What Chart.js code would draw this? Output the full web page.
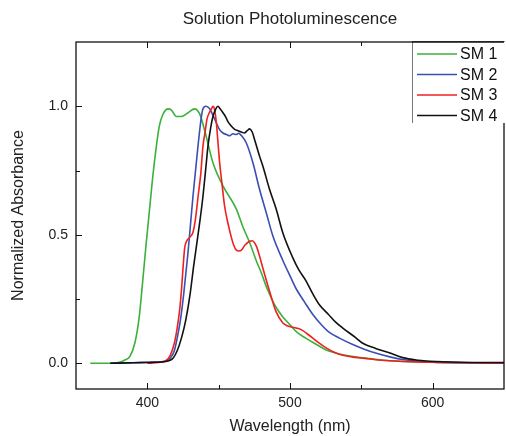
<!DOCTYPE html>
<html>
<head>
<meta charset="utf-8">
<script src="https://cdn.jsdelivr.net/npm/chart.js@4.4.1/dist/chart.umd.min.js"></script>
<style>
  html, body { margin: 0; padding: 0; background: #fff; }
  #wrap { width: 506px; height: 436px; }
</style>
</head>
<body>
<div id="wrap"><canvas id="pl"></canvas></div>
<script>
'use strict';

/* ---- data ---- */
const chartTitle = 'Solution Photoluminescence';
const seriesNames = ['SM 1', 'SM 2', 'SM 3', 'SM 4'];
const seriesColors = ['#3bb03b', '#3a4fb4', '#ee2020', '#111111'];

const sm1Wl  = [360, 370, 378, 381, 384, 387.8, 391.3, 394.3, 396.6, 399, 401.3, 403.6, 406, 408.3, 411, 414.6, 416.9, 420.4, 423.9, 428.5, 433.2, 436.7, 439, 441.4, 446, 453, 462.4, 467, 471.7, 476.3, 480, 484, 490, 495, 500, 505, 511, 518, 525, 532, 539, 548, 556, 570, 590, 610, 630, 650];
const sm1Val = [0, 0, 0.002, 0.005, 0.012, 0.027, 0.08, 0.18, 0.31, 0.455, 0.585, 0.715, 0.83, 0.92, 0.97, 0.99, 0.985, 0.96, 0.96, 0.975, 0.99, 0.97, 0.93, 0.88, 0.78, 0.69, 0.6, 0.53, 0.47, 0.4, 0.35, 0.29, 0.22, 0.18, 0.15, 0.12, 0.098, 0.075, 0.053, 0.04, 0.031, 0.023, 0.018, 0.01, 0.005, 0.003, 0.002, 0.001];

const sm2Wl  = [374, 390, 405, 412, 416, 419, 421, 423.5, 425.5, 428.5, 432, 435.5, 437.9, 439, 441, 443.7, 446, 448.4, 450.5, 453, 455.5, 457.7, 460, 462.4, 464, 465.9, 469.4, 474, 478.7, 483.4, 488, 495, 500, 504.3, 510, 516, 522, 527.6, 535, 544, 552, 560, 570, 580, 590, 600, 620, 650];
const sm2Val = [0, 0.002, 0.005, 0.008, 0.02, 0.05, 0.1, 0.18, 0.27, 0.43, 0.65, 0.845, 0.96, 0.99, 1.0, 0.99, 0.965, 0.935, 0.91, 0.896, 0.89, 0.885, 0.893, 0.89, 0.895, 0.886, 0.857, 0.78, 0.676, 0.585, 0.495, 0.4, 0.34, 0.29, 0.24, 0.19, 0.15, 0.12, 0.097, 0.073, 0.055, 0.04, 0.025, 0.014, 0.008, 0.004, 0.002, 0.001];

const sm3Wl  = [400, 408, 413, 416, 419, 421, 422.7, 424, 425, 426.2, 427.5, 429.7, 432, 433.7, 435.6, 437.5, 439, 440.5, 441.8, 443.5, 444.9, 446, 447.2, 448.4, 449.5, 450.7, 452.5, 454.2, 456.5, 458.9, 460.5, 462.4, 464.2, 465.9, 468.5, 471.7, 473.5, 475, 476.5, 478.5, 481, 485.7, 490.3, 495, 498.5, 502, 506, 509, 512, 516, 520, 525.3, 531, 537, 544, 551, 560, 570, 585, 600, 625, 650];
const sm3Val = [0, 0.003, 0.01, 0.03, 0.08, 0.14, 0.21, 0.29, 0.37, 0.45, 0.475, 0.49, 0.51, 0.56, 0.65, 0.74, 0.845, 0.9, 0.95, 0.975, 0.99, 1.0, 0.985, 0.935, 0.86, 0.78, 0.69, 0.61, 0.545, 0.49, 0.46, 0.44, 0.437, 0.44, 0.46, 0.475, 0.477, 0.47, 0.455, 0.42, 0.37, 0.28, 0.2, 0.157, 0.145, 0.14, 0.135, 0.127, 0.115, 0.098, 0.08, 0.06, 0.043, 0.031, 0.024, 0.02, 0.014, 0.01, 0.006, 0.004, 0.002, 0.001];

const sm4Wl  = [374, 390, 405, 412, 415, 418, 421, 424, 427, 430, 432.5, 434.4, 437, 439, 441, 442.5, 444.5, 446, 448, 449.5, 451, 453, 454.8, 456.5, 458.5, 461.2, 463.5, 465.9, 468, 470, 471.7, 473.5, 475.2, 478.7, 481, 485.7, 490.3, 495, 502, 506, 511.3, 516, 520.6, 527, 532, 537, 546, 551, 560, 569, 579, 590, 598, 620, 650];
const sm4Val = [0, 0.002, 0.004, 0.006, 0.01, 0.02, 0.05, 0.1, 0.17, 0.27, 0.38, 0.455, 0.56, 0.65, 0.76, 0.845, 0.92, 0.96, 0.99, 1.0, 0.99, 0.975, 0.96, 0.94, 0.925, 0.91, 0.905, 0.9, 0.896, 0.905, 0.912, 0.9, 0.87, 0.805, 0.767, 0.676, 0.6, 0.507, 0.41, 0.365, 0.32, 0.27, 0.228, 0.19, 0.16, 0.137, 0.1, 0.078, 0.058, 0.042, 0.022, 0.012, 0.008, 0.004, 0.003];

const xTicks = [400, 500, 600];
const xMinorTicks = [450, 550];
const yTicks = [0, 0.5, 1.0];
const yMinorTicks = [0.25, 0.75];

const FONT = "'Liberation Sans', Arial, sans-serif";
const TEXT = '#222';

const toPoints = (wl, val) => wl.map((x, i) => ({ x, y: val[i] }));
const allWl  = [sm1Wl, sm2Wl, sm3Wl, sm4Wl];
const allVal = [sm1Val, sm2Val, sm3Val, sm4Val];

/* ---- frame, inner ticks, title and legend box ---- */
const framePlugin = {
  id: 'frame',
  afterDatasetsDraw(chart) {
    const { ctx, chartArea: a, scales: { x, y } } = chart;
    ctx.save();
    ctx.strokeStyle = '#111';
    ctx.lineWidth = 1.3;
    ctx.strokeRect(a.left, a.top, a.right - a.left, a.bottom - a.top);

    ctx.lineWidth = 1;
    const tick = (vals, len) => {
      vals.forEach(v => {
        const px = Math.round(x.getPixelForValue(v)) + 0.5;
        ctx.beginPath();
        ctx.moveTo(px, a.bottom); ctx.lineTo(px, a.bottom - len);
        ctx.moveTo(px, a.top);    ctx.lineTo(px, a.top + len);
        ctx.stroke();
      });
    };
    const ytick = (vals, len) => {
      vals.forEach(v => {
        const py = Math.round(y.getPixelForValue(v)) + 0.5;
        ctx.beginPath();
        ctx.moveTo(a.left, py); ctx.lineTo(a.left + len, py);
        ctx.stroke();
      });
    };
    tick(xTicks, 6); tick(xMinorTicks, 4);
    ytick(yTicks, 6); ytick(yMinorTicks, 4);

    // title, centred over the plot area
    ctx.fillStyle = TEXT;
    ctx.font = '17px ' + FONT;
    ctx.textAlign = 'center';
    ctx.textBaseline = 'middle';
    ctx.fillText(chartTitle, (a.left + a.right) / 2, 19);

    // legend box in the top-right corner
    const bx = 412, by = a.top, bh = 81;
    ctx.fillStyle = '#fff';
    ctx.fillRect(bx, by, chart.width - bx, bh);
    ctx.strokeStyle = '#777';
    ctx.lineWidth = 1;
    ctx.beginPath();
    ctx.moveTo(bx + 0.5, by); ctx.lineTo(bx + 0.5, by + bh);
    ctx.stroke();
    ctx.strokeStyle = '#111';
    ctx.lineWidth = 1.3;
    ctx.beginPath();
    ctx.moveTo(bx, a.top); ctx.lineTo(a.right, a.top);
    ctx.stroke();

    ctx.font = '16px ' + FONT;
    ctx.textBaseline = 'middle';
    ctx.textAlign = 'left';
    seriesNames.forEach((name, i) => {
      const ly = by + 12 + i * 20.5;
      ctx.strokeStyle = seriesColors[i];
      ctx.lineWidth = 1.6;
      ctx.beginPath();
      ctx.moveTo(417, ly); ctx.lineTo(457, ly);
      ctx.stroke();
      ctx.fillStyle = '#111';
      ctx.fillText(name, 460, ly + 1);
    });
    ctx.restore();
  }
};

new Chart(document.getElementById('pl'), {
  type: 'line',
  data: {
    datasets: seriesNames.map((name, i) => ({
      label: name,
      data: toPoints(allWl[i], allVal[i]),
      borderColor: seriesColors[i],
      borderWidth: 1.6,
      pointRadius: 0,
      cubicInterpolationMode: 'monotone',
      fill: false,
      order: 4 - i
    }))
  },
  options: {
    responsive: true,
    maintainAspectRatio: false,
    animation: false,
    layout: { padding: { top: 42, right: 2 } },
    plugins: {
      legend: { display: false },
      tooltip: { enabled: false },
      title: { display: false }
    },
    scales: {
      x: {
        type: 'linear',
        min: 350,
        max: 650,
        afterBuildTicks: s => { s.ticks = xTicks.map(v => ({ value: v })); },
        afterFit: s => { s.height = 47; },
        grid: { display: false, drawTicks: false },
        border: { display: false },
        ticks: {
          color: TEXT,
          padding: 6,
          font: { family: FONT, size: 14 },
          callback: v => String(v)
        },
        title: {
          display: true,
          text: 'Wavelength (nm)',
          color: TEXT,
          font: { family: FONT, size: 16 },
          padding: { top: 3, bottom: 0 }
        }
      },
      y: {
        type: 'linear',
        min: -0.1,
        max: 1.25,
        afterBuildTicks: s => { s.ticks = yTicks.map(v => ({ value: v })); },
        afterFit: s => { s.width = 76; },
        grid: { display: false, drawTicks: false },
        border: { display: false },
        ticks: {
          color: TEXT,
          padding: 8,
          font: { family: FONT, size: 14 },
          callback: v => v.toFixed(1)
        },
        title: {
          display: true,
          text: 'Normalized Absorbance',
          color: TEXT,
          font: { family: FONT, size: 16 },
          padding: { top: 9, bottom: 4 }
        }
      }
    }
  },
  plugins: [framePlugin]
});
</script>
</body>
</html>
